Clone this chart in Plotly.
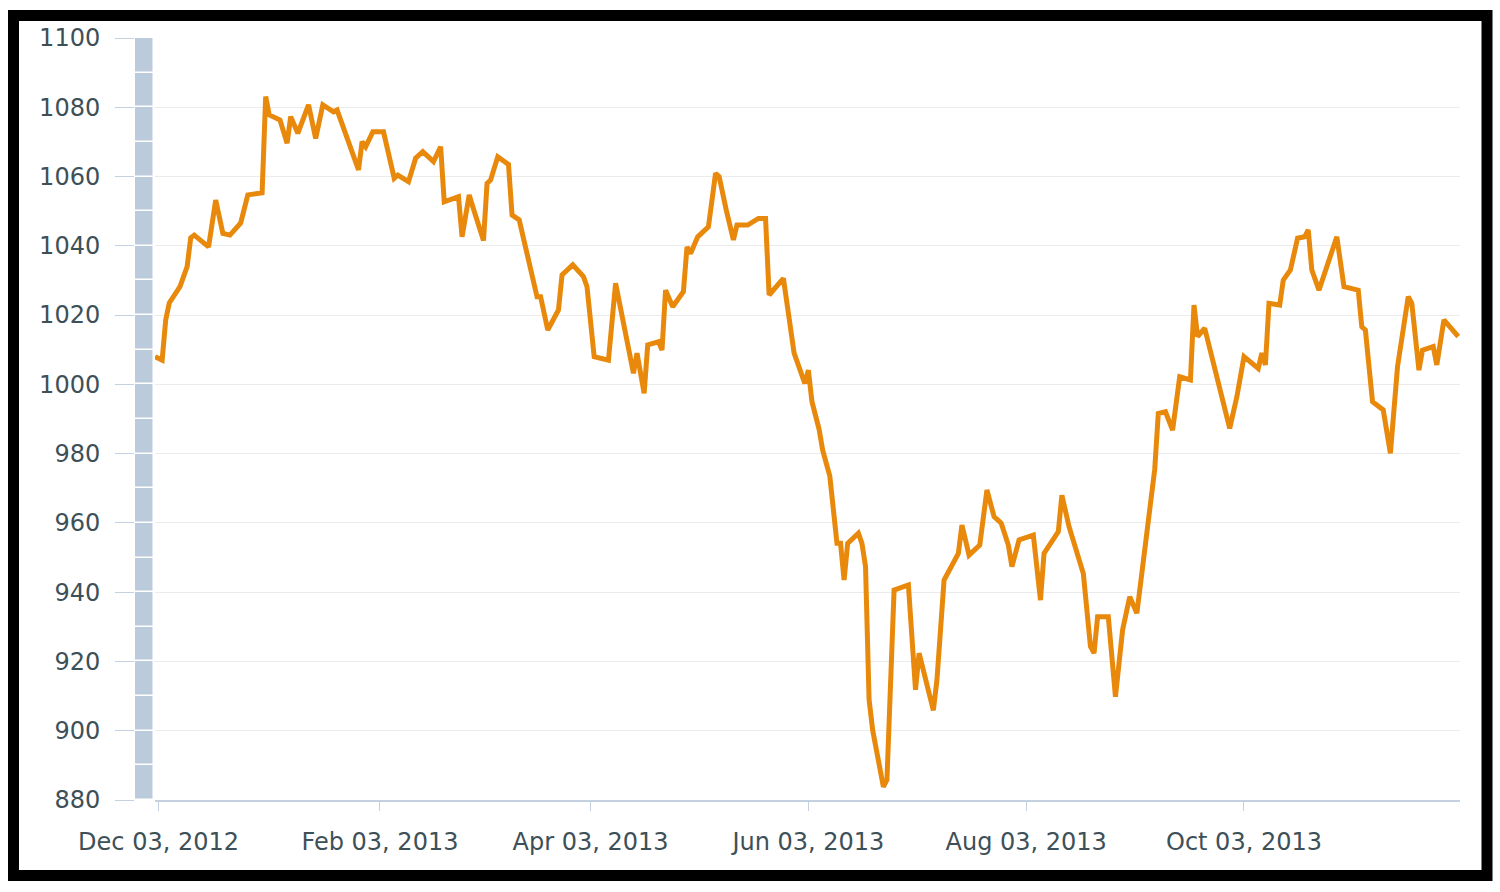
import plotly.graph_objects as go

# ---- data ----
dates = [
    "2012-12-02", "2012-12-04", "2012-12-05", "2012-12-06", "2012-12-09", "2012-12-11", "2012-12-12",
    "2012-12-13", "2012-12-17", "2012-12-19", "2012-12-21", "2012-12-23", "2012-12-26", "2012-12-28",
    "2013-01-01", "2013-01-02", "2013-01-03", "2013-01-06", "2013-01-08", "2013-01-09", "2013-01-11",
    "2013-01-14", "2013-01-16", "2013-01-18", "2013-01-21", "2013-01-22", "2013-01-28", "2013-01-29",
    "2013-01-30",
    "2013-02-01", "2013-02-04", "2013-02-07", "2013-02-08", "2013-02-11", "2013-02-13", "2013-02-15",
    "2013-02-18", "2013-02-20", "2013-02-21", "2013-02-25", "2013-02-26", "2013-02-28",
    "2013-03-01", "2013-03-04", "2013-03-05", "2013-03-06", "2013-03-08", "2013-03-11", "2013-03-12",
    "2013-03-14", "2013-03-19", "2013-03-20", "2013-03-22", "2013-03-25", "2013-03-26", "2013-03-29",
    "2013-04-01", "2013-04-02", "2013-04-04", "2013-04-08", "2013-04-10", "2013-04-14", "2013-04-15",
    "2013-04-16", "2013-04-18", "2013-04-19", "2013-04-22", "2013-04-23", "2013-04-24", "2013-04-26",
    "2013-04-29", "2013-04-30",
    "2013-05-01", "2013-05-03", "2013-05-06", "2013-05-08", "2013-05-09", "2013-05-11", "2013-05-13",
    "2013-05-14", "2013-05-17", "2013-05-20", "2013-05-22", "2013-05-23", "2013-05-27", "2013-05-30",
    "2013-06-02", "2013-06-03", "2013-06-04", "2013-06-06", "2013-06-07", "2013-06-09", "2013-06-11",
    "2013-06-12", "2013-06-13", "2013-06-14", "2013-06-17", "2013-06-18", "2013-06-19", "2013-06-20",
    "2013-06-21", "2013-06-24", "2013-06-25", "2013-06-27",
    "2013-07-01", "2013-07-03", "2013-07-04", "2013-07-08", "2013-07-09", "2013-07-11", "2013-07-13",
    "2013-07-15", "2013-07-16", "2013-07-18", "2013-07-21", "2013-07-23", "2013-07-25", "2013-07-27",
    "2013-07-29", "2013-07-30",
    "2013-08-01", "2013-08-05", "2013-08-07", "2013-08-08", "2013-08-12", "2013-08-13", "2013-08-15",
    "2013-08-19", "2013-08-21", "2013-08-22", "2013-08-23", "2013-08-26", "2013-08-28", "2013-08-30",
    "2013-09-01", "2013-09-03", "2013-09-08", "2013-09-09", "2013-09-11", "2013-09-13", "2013-09-15",
    "2013-09-18", "2013-09-19", "2013-09-20", "2013-09-22", "2013-09-29",
    "2013-10-01", "2013-10-03", "2013-10-07", "2013-10-08", "2013-10-09", "2013-10-10", "2013-10-13",
    "2013-10-14", "2013-10-16", "2013-10-18", "2013-10-20", "2013-10-21", "2013-10-22", "2013-10-24",
    "2013-10-29", "2013-10-31",
    "2013-11-04", "2013-11-05", "2013-11-06", "2013-11-08", "2013-11-11", "2013-11-13", "2013-11-15",
    "2013-11-18", "2013-11-19", "2013-11-21", "2013-11-22", "2013-11-25", "2013-11-26", "2013-11-28",
    "2013-12-02",
]

values = [
    1008.0, 1007.0, 1018.6, 1023.5, 1028.2, 1034.0, 1042.3, 1043.1, 1039.7, 1053.2, 1043.6, 1043.1, 1046.6, 1054.7,
    1055.3, 1083.1, 1077.8, 1076.3, 1069.6, 1077.3, 1072.5, 1080.7, 1071.0, 1080.7, 1078.7, 1079.2, 1061.9, 1070.1,
    1068.6,
    1072.9, 1072.9, 1059.5, 1060.4, 1058.5, 1065.3, 1067.2, 1064.3, 1068.6, 1052.7, 1054.2, 1042.6, 1054.7,
    1051.3, 1041.5, 1058.0, 1059.0, 1065.7, 1063.5, 1048.9, 1047.5, 1025.3, 1025.3, 1015.7, 1021.5, 1031.6, 1034.5,
    1031.1, 1028.2, 1008.0, 1007.0, 1029.2, 1009.0, 1003.2, 1009.0, 997.4, 1011.4, 1012.3, 1009.9, 1027.2, 1022.4,
    1026.8, 1039.7,
    1037.8, 1042.6, 1045.5, 1060.9, 1060.0, 1050.3, 1041.7, 1046.0, 1046.0, 1047.9, 1047.9, 1025.8, 1030.6, 1009.0,
    1000.3, 1004.1, 995.0, 987.0, 981.0, 973.5, 954.1, 954.1, 943.5, 954.1, 957.0, 954.1, 947.4, 908.9,
    900.2, 883.8, 885.8, 940.6,
    942.1, 911.8, 922.4, 905.9, 914.6, 943.5, 947.4, 951.2, 959.4, 950.7, 953.6, 969.5, 961.8, 959.9,
    953.6, 947.4,
    955.1, 956.5, 937.7, 951.2, 957.5, 968.0, 958.9, 945.4, 924.3, 922.4, 932.9, 932.9, 909.8, 929.1,
    938.7, 933.9, 975.5, 991.6, 992.1, 986.8, 1002.2, 1001.3, 1022.9, 1013.8, 1016.2, 987.3,
    996.4, 1008.0, 1004.6, 1009.0, 1005.6, 1023.4, 1022.9, 1030.1, 1033.0, 1042.2, 1042.6, 1044.6, 1033.0, 1027.2,
    1042.6, 1028.2,
    1027.2, 1016.6, 1015.7, 995.0, 992.6, 980.1, 1005.1, 1025.3, 1023.4, 1004.1, 1009.9, 1010.9, 1005.6, 1018.6,
    1013.8,
]

x_tick_dates = ["2012-12-03", "2013-02-03", "2013-04-03", "2013-06-03", "2013-08-03", "2013-10-03"]
y_min, y_max, y_step = 880, 1100, 20

# decorative segmented band on the left of the plot (one block per 10 units)
band_bases = list(range(y_min, y_max, 10))
band_heights = [10] * len(band_bases)

assert len(dates) == len(values)

FONT = "DejaVu Sans"
LABEL_COLOR = "#3e5057"
TICK_COLOR = "#c3d1e1"
FONT_SIZE = 24

fig = go.Figure()

fig.add_trace(go.Bar(
    x=["band"] * len(band_bases), y=band_heights, base=band_bases,
    xaxis="x2", yaxis="y",
    marker=dict(color="#bccbdc", line=dict(color="white", width=1.5)),
    width=1, hoverinfo="skip", showlegend=False,
))

fig.add_trace(go.Scatter(
    x=dates, y=values, mode="lines",
    line=dict(color="#e8890c", width=5),
    xaxis="x", yaxis="y", showlegend=False,
))

W, H = 1500, 892
ml, mr, mt, mb = 135, 40, 38, 92
pw = W - ml - mr
ph = H - mt - mb

def px_x(px):
    return (px - ml) / pw

def px_y(py):
    return (H - mb - py) / ph

fig.update_layout(
    width=W, height=H,
    margin=dict(l=ml, r=mr, t=mt, b=mb),
    paper_bgcolor="white", plot_bgcolor="white",
    bargap=0,
    font=dict(family=FONT, size=FONT_SIZE, color=LABEL_COLOR),
    xaxis=dict(
        domain=[px_x(155), 1.0],
        type="date",
        range=["2012-12-02", "2013-12-02 12:00"],
        tickvals=x_tick_dates,
        tickformat="%b %d, %Y",
        ticks="outside", ticklen=9, tickwidth=1.2, tickcolor=TICK_COLOR,
        ticklabelstandoff=10,
        showline=True, linecolor=TICK_COLOR, linewidth=1.5,
        showgrid=False, zeroline=False,
        tickfont=dict(family=FONT, size=FONT_SIZE, color=LABEL_COLOR),
    ),
    xaxis2=dict(
        domain=[0.0, px_x(154)],
        anchor="y",
        range=[-0.5, 0.5],
        showticklabels=False, ticks="", showgrid=False, zeroline=False, showline=False,
    ),
    yaxis=dict(
        anchor="x2",
        range=[y_min, y_max],
        dtick=y_step, tick0=y_min,
        ticks="outside", ticklen=19, tickwidth=1.2, tickcolor=TICK_COLOR,
        ticklabelstandoff=10,
        showgrid=True, gridcolor="#ebebeb", gridwidth=1,
        showline=False, zeroline=False,
        tickfont=dict(family=FONT, size=FONT_SIZE, color=LABEL_COLOR),
    ),
    shapes=[dict(
        type="rect", xref="paper", yref="paper",
        x0=px_x(13.5), x1=px_x(1487), y0=px_y(875.5), y1=px_y(15.5),
        line=dict(color="black", width=11), fillcolor="rgba(0,0,0,0)",
        layer="above",
    )],
)

fig.write_html(
    "out.html",
    config={"displayModeBar": False},
    post_script="document.body.style.margin='0';document.body.style.overflow='hidden';",
)
